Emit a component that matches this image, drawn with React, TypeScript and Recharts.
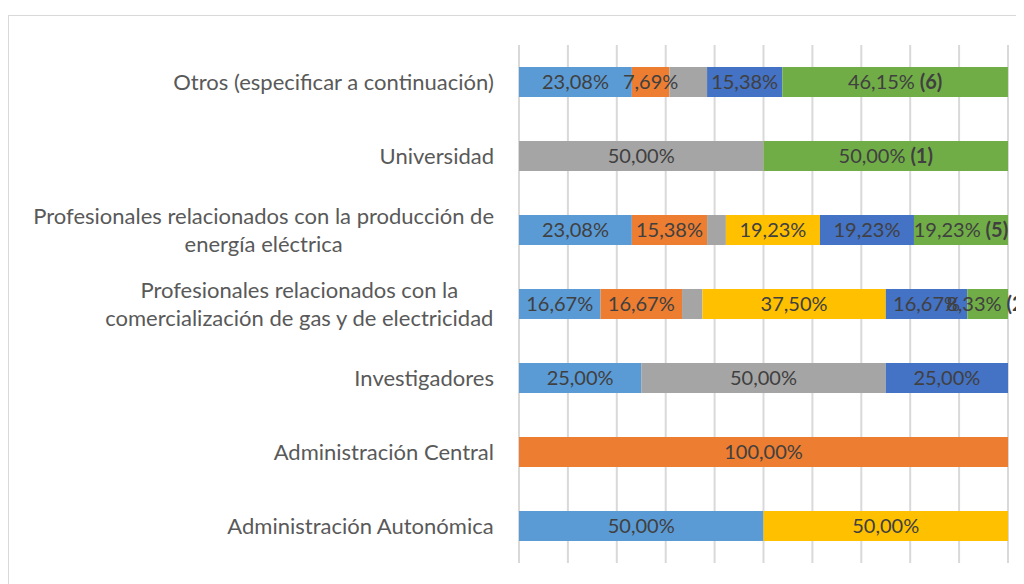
import { BarChart, Bar, XAxis, YAxis, CartesianGrid, LabelList } from 'recharts'

const categories = [
  'Otros (especificar a continuación)',
  'Universidad',
  'Profesionales relacionados con la producción de\nenergía eléctrica',
  'Profesionales relacionados con la\ncomercialización de gas y de electricidad',
  'Investigadores',
  'Administración Central',
  'Administración Autonómica',
]

// porcentajes por tipo de respuesta (de arriba a abajo)
const serie1 = [23.08, 0, 23.08, 16.67, 25, 0, 50]
const serie2 = [7.69, 0, 15.38, 16.67, 0, 100, 0]
const serie3 = [7.69, 50, 3.85, 4.17, 50, 0, 0]
const serie4 = [0, 0, 19.23, 37.5, 0, 0, 50]
const serie5 = [15.38, 0, 19.23, 16.67, 25, 0, 0]
const serie6 = [46.15, 50, 19.23, 8.33, 0, 0, 0]
const respuestas = [6, 1, 5, 2, 0, 0, 0]

const xTicks = [0, 10, 20, 30, 40, 50, 60, 70, 80, 90, 100]

const data = categories.map((name, i) => ({
  name,
  s1: serie1[i],
  s2: serie2[i],
  s3: serie3[i],
  s4: serie4[i],
  s5: serie5[i],
  s6: serie6[i],
  n: respuestas[i],
}))

const FONT = 'Lato'

let ctx: CanvasRenderingContext2D | null = null
const measure = (text: string, size: number) => {
  if (!ctx) ctx = document.createElement('canvas').getContext('2d')
  if (!ctx) return text.length * size * 0.5
  ctx.font = `${size}px ${FONT}`
  return ctx.measureText(text).width
}

function CategoryTick(props: any) {
  const { x, y, payload } = props
  const lines = String(payload.value).split('\n')
  const maxW = Math.max(...lines.map((l) => measure(l, 22)))
  const cx = x - maxW / 2
  const lh = 28
  const y0 = y - ((lines.length - 1) * lh) / 2
  return (
    <text textAnchor='middle' fontFamily={FONT} fontSize={22} fill='#595959'>
      {lines.map((l, i) => (
        <tspan key={i} x={cx} y={y0 + i * lh} dy='0.35em'>{l}</tspan>
      ))}
    </text>
  )
}

const fmt = (v: number) => v.toFixed(2).replace('.', ',') + '%'

const makeLabel = (minValue: number, withCount: boolean) => (props: any) => {
  const { x, y, width, height, value, index } = props
  if (!value || value < minValue) return null
  const n = data[index]?.n
  return (
    <text
      x={x + width / 2}
      y={y + height / 2}
      dy='0.35em'
      textAnchor='middle'
      fontFamily={FONT}
      fontSize={20}
      fill='#404040'
    >
      {fmt(value)}
      {withCount && n ? <tspan fontWeight='bold'>{` (${n})`}</tspan> : null}
    </text>
  )
}

const series = [
  { key: 's1', color: '#5B9BD5', min: 0, count: false },
  { key: 's2', color: '#ED7D31', min: 0, count: false },
  { key: 's3', color: '#A5A5A5', min: 10, count: false },
  { key: 's4', color: '#FFC000', min: 0, count: false },
  { key: 's5', color: '#4472C4', min: 0, count: false },
  { key: 's6', color: '#70AD47', min: 0, count: true },
]

export default function App() {
  return (
    <div style={{ position: 'relative', width: 1016, height: 576, overflow: 'hidden' }}>
      <div
        style={{
          position: 'absolute',
          left: 0,
          top: 7,
          width: 1100,
          height: 700,
          border: '1.5px solid #d9d9d9',
          boxSizing: 'border-box',
        }}
      />
      <div style={{ position: 'absolute', left: 0, top: 0 }}>
        <BarChart
          width={1016}
          height={576}
          data={data}
          layout='vertical'
          margin={{ top: 37, right: 16, bottom: 21, left: 0 }}
        >
          <CartesianGrid horizontal={false} stroke='#d9d9d9' strokeWidth={2} />
          <XAxis type='number' domain={[0, 100]} ticks={xTicks} allowDataOverflow hide />
          <YAxis
            type='category'
            dataKey='name'
            width={511}
            axisLine={false}
            tickLine={false}
            tickSize={0}
            tickMargin={25}
            tick={<CategoryTick />}
            interval={0}
          />
          {series.map((s) => (
            <Bar key={s.key} dataKey={s.key} stackId='a' fill={s.color} barSize={30} isAnimationActive={false}>
              <LabelList dataKey={s.key} content={makeLabel(s.min, s.count)} />
            </Bar>
          ))}
        </BarChart>
      </div>
    </div>
  )
}
